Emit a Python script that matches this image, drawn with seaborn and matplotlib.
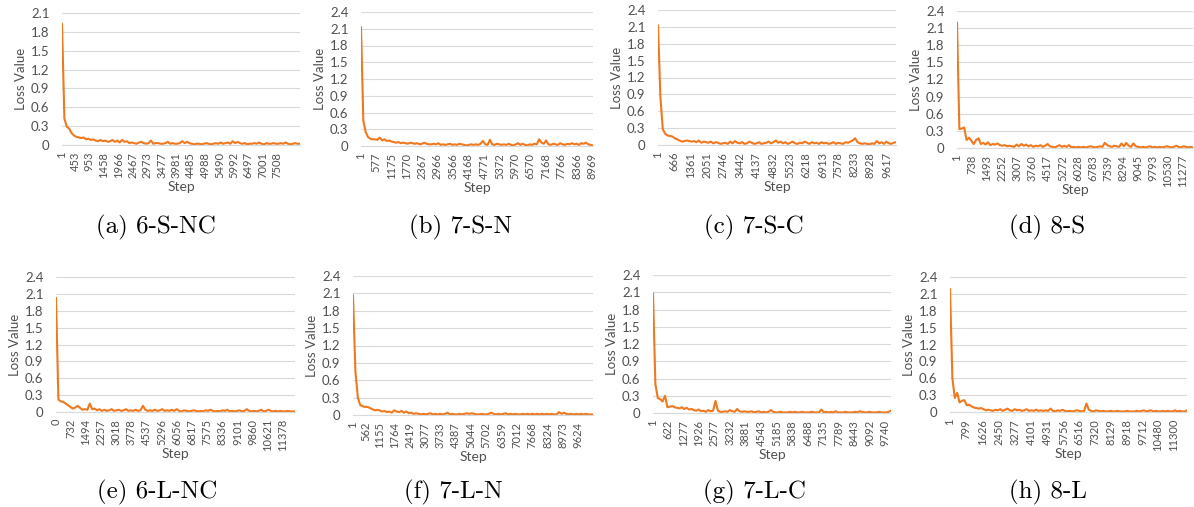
import numpy   as np
import pandas  as pd
import seaborn as sns

from matplotlib import pyplot as plt

sns.set_style("white")
plt.rcParams['font.family'] = ['Lato', 'DejaVu Sans']

W, H = 1194, 507

captions   = ['(a) 6-S-NC', '(b) 7-S-N', '(c) 7-S-C', '(d) 8-S',
              '(e) 6-L-NC', '(f) 7-L-N', '(g) 7-L-C', '(h) 8-L']
first_step = [1, 1, 1, 1, 0, 1, 1, 1]
last_step  = [8300, 9000, 10000, 11780, 11980, 10265, 9990, 11955]
y_max      = [2.1, 2.4, 2.4, 2.4, 2.4, 2.4, 2.4, 2.4]

ticks_a = [1, 453, 953, 1458, 1966, 2467, 2973, 3477, 3981, 4485, 4988, 5490, 5992, 6497, 7001, 7508]
ticks_b = [1, 577, 1175, 1770, 2367, 2966, 3566, 4168, 4771, 5372, 5970, 6570, 7168, 7766, 8366, 8969]
ticks_c = [1, 666, 1361, 2051, 2746, 3442, 4137, 4832, 5523, 6218, 6913, 7578, 8233, 8928, 9617]
ticks_d = [1, 738, 1493, 2252, 3007, 3760, 4517, 5272, 6028, 6783, 7539, 8294, 9045, 9793, 10530, 11277]
ticks_e = [0, 732, 1494, 2257, 3018, 3778, 4537, 5296, 6056, 6817, 7575, 8336, 9101, 9860, 10621, 11378]
ticks_f = [1, 562, 1155, 1764, 2419, 3077, 3733, 4387, 5044, 5702, 6359, 7012, 7668, 8324, 8973, 9624]
ticks_g = [1, 622, 1277, 1926, 2577, 3232, 3881, 4543, 5185, 5838, 6488, 7135, 7789, 8443, 9092, 9740]
ticks_h = [1, 799, 1626, 2450, 3277, 4101, 4931, 5756, 6516, 7320, 8129, 8918, 9712, 10480, 11300]

loss_a = [1.93, 0.42, 0.29, 0.26, 0.19, 0.15, 0.13, 0.12, 0.11, 0.12,
          0.09, 0.10, 0.08, 0.09, 0.07, 0.06, 0.08, 0.06, 0.07, 0.05,
          0.06, 0.08, 0.05, 0.07, 0.04, 0.08, 0.05, 0.06, 0.03, 0.04,
          0.03, 0.02, 0.04, 0.05, 0.03, 0.02, 0.03, 0.07, 0.02, 0.03,
          0.03, 0.02, 0.02, 0.03, 0.05, 0.02, 0.03, 0.02, 0.02, 0.03,
          0.06, 0.03, 0.05, 0.03, 0.02, 0.01, 0.02, 0.02, 0.01, 0.02,
          0.03, 0.02, 0.01, 0.02, 0.03, 0.02, 0.04, 0.02, 0.03, 0.04,
          0.02, 0.06, 0.03, 0.05, 0.03, 0.02, 0.03, 0.01, 0.02, 0.02,
          0.03, 0.02, 0.04, 0.02, 0.01, 0.03, 0.02, 0.02, 0.03, 0.02,
          0.02, 0.03, 0.02, 0.04, 0.02, 0.01, 0.02, 0.03, 0.02, 0.02]
loss_b = [2.13, 0.45, 0.25, 0.16, 0.13, 0.12, 0.12, 0.11, 0.15, 0.10,
          0.12, 0.09, 0.10, 0.08, 0.07, 0.06, 0.07, 0.05, 0.06, 0.05,
          0.04, 0.06, 0.05, 0.04, 0.05, 0.03, 0.04, 0.06, 0.04, 0.03,
          0.03, 0.04, 0.03, 0.05, 0.02, 0.03, 0.02, 0.03, 0.04, 0.02,
          0.03, 0.02, 0.04, 0.03, 0.02, 0.01, 0.02, 0.03, 0.02, 0.03,
          0.02, 0.04, 0.09, 0.03, 0.02, 0.11, 0.03, 0.02, 0.04, 0.03,
          0.02, 0.03, 0.02, 0.04, 0.02, 0.01, 0.03, 0.05, 0.02, 0.04,
          0.02, 0.01, 0.03, 0.02, 0.04, 0.03, 0.12, 0.06, 0.04, 0.10,
          0.03, 0.02, 0.04, 0.03, 0.02, 0.05, 0.03, 0.02, 0.04, 0.03,
          0.05, 0.03, 0.04, 0.02, 0.05, 0.04, 0.06, 0.03, 0.02, 0.01]
loss_c = [2.13, 0.85, 0.28, 0.20, 0.17, 0.16, 0.15, 0.12, 0.10, 0.08,
          0.06, 0.07, 0.08, 0.07, 0.06, 0.07, 0.05, 0.08, 0.04, 0.06,
          0.05, 0.04, 0.06, 0.03, 0.05, 0.04, 0.02, 0.03, 0.04, 0.02,
          0.06, 0.03, 0.07, 0.04, 0.03, 0.05, 0.02, 0.03, 0.06, 0.04,
          0.02, 0.03, 0.05, 0.02, 0.03, 0.04, 0.06, 0.03, 0.05, 0.08,
          0.04, 0.06, 0.03, 0.05, 0.02, 0.04, 0.06, 0.03, 0.02, 0.04,
          0.03, 0.06, 0.04, 0.02, 0.05, 0.03, 0.04, 0.02, 0.05, 0.03,
          0.04, 0.02, 0.03, 0.05, 0.02, 0.04, 0.03, 0.02, 0.05, 0.04,
          0.06, 0.08, 0.12, 0.05, 0.03, 0.02, 0.03, 0.02, 0.01, 0.03,
          0.02, 0.07, 0.03, 0.05, 0.02, 0.06, 0.03, 0.02, 0.04, 0.05]
loss_d = [2.20, 0.33, 0.34, 0.36, 0.14, 0.18, 0.13, 0.07, 0.14, 0.17,
          0.07, 0.09, 0.06, 0.10, 0.05, 0.07, 0.06, 0.08, 0.05, 0.04,
          0.05, 0.03, 0.04, 0.03, 0.02, 0.06, 0.03, 0.07, 0.04, 0.06,
          0.03, 0.05, 0.02, 0.04, 0.03, 0.05, 0.02, 0.04, 0.07, 0.03,
          0.02, 0.01, 0.03, 0.05, 0.02, 0.04, 0.02, 0.05, 0.01, 0.02,
          0.01, 0.02, 0.01, 0.02, 0.01, 0.02, 0.03, 0.02, 0.01, 0.02,
          0.03, 0.02, 0.09, 0.05, 0.03, 0.02, 0.04, 0.03, 0.02, 0.08,
          0.03, 0.09, 0.04, 0.02, 0.08, 0.03, 0.02, 0.01, 0.02, 0.01,
          0.02, 0.03, 0.01, 0.02, 0.01, 0.02, 0.01, 0.02, 0.03, 0.02,
          0.01, 0.02, 0.04, 0.02, 0.01, 0.03, 0.02, 0.01, 0.02, 0.01]
loss_e = [2.03, 0.22, 0.19, 0.18, 0.15, 0.12, 0.09, 0.06, 0.08, 0.11,
          0.07, 0.04, 0.05, 0.04, 0.15, 0.05, 0.06, 0.03, 0.05, 0.02,
          0.04, 0.02, 0.03, 0.05, 0.02, 0.03, 0.04, 0.02, 0.03, 0.05,
          0.02, 0.03, 0.02, 0.04, 0.02, 0.03, 0.11, 0.04, 0.02, 0.03,
          0.02, 0.04, 0.02, 0.03, 0.05, 0.02, 0.03, 0.02, 0.04, 0.02,
          0.05, 0.02, 0.01, 0.03, 0.02, 0.01, 0.02, 0.03, 0.02, 0.01,
          0.02, 0.01, 0.03, 0.02, 0.04, 0.02, 0.01, 0.02, 0.01, 0.03,
          0.02, 0.04, 0.01, 0.02, 0.01, 0.02, 0.03, 0.01, 0.02, 0.05,
          0.02, 0.01, 0.02, 0.01, 0.02, 0.04, 0.01, 0.02, 0.04, 0.02,
          0.01, 0.02, 0.01, 0.02, 0.01, 0.01, 0.02, 0.01, 0.01, 0.01]
loss_f = [2.07, 0.75, 0.30, 0.17, 0.15, 0.14, 0.14, 0.12, 0.10, 0.08,
          0.09, 0.08, 0.06, 0.07, 0.05, 0.06, 0.04, 0.08, 0.06, 0.05,
          0.07, 0.04, 0.06, 0.03, 0.04, 0.02, 0.03, 0.02, 0.01, 0.02,
          0.01, 0.02, 0.03, 0.01, 0.02, 0.01, 0.02, 0.01, 0.02, 0.04,
          0.01, 0.02, 0.01, 0.01, 0.02, 0.01, 0.02, 0.03, 0.02, 0.03,
          0.02, 0.01, 0.01, 0.02, 0.01, 0.01, 0.02, 0.04, 0.02, 0.01,
          0.02, 0.01, 0.02, 0.03, 0.01, 0.02, 0.01, 0.02, 0.01, 0.01,
          0.02, 0.01, 0.02, 0.01, 0.02, 0.01, 0.02, 0.01, 0.02, 0.01,
          0.02, 0.01, 0.02, 0.01, 0.01, 0.05, 0.02, 0.04, 0.02, 0.01,
          0.02, 0.01, 0.02, 0.01, 0.02, 0.01, 0.02, 0.01, 0.01, 0.01]
loss_g = [2.08, 0.50, 0.26, 0.24, 0.20, 0.30, 0.10, 0.11, 0.12, 0.10,
          0.09, 0.08, 0.10, 0.07, 0.09, 0.06, 0.07, 0.05, 0.04, 0.06,
          0.03, 0.04, 0.02, 0.05, 0.03, 0.04, 0.21, 0.04, 0.02, 0.02,
          0.03, 0.02, 0.05, 0.03, 0.02, 0.07, 0.03, 0.02, 0.03, 0.02,
          0.02, 0.03, 0.01, 0.02, 0.03, 0.01, 0.02, 0.01, 0.02, 0.05,
          0.02, 0.01, 0.01, 0.02, 0.01, 0.01, 0.01, 0.02, 0.01, 0.02,
          0.01, 0.01, 0.02, 0.01, 0.01, 0.01, 0.02, 0.01, 0.01, 0.01,
          0.06, 0.01, 0.02, 0.01, 0.02, 0.01, 0.03, 0.01, 0.01, 0.01,
          0.02, 0.01, 0.01, 0.01, 0.02, 0.01, 0.03, 0.02, 0.01, 0.01,
          0.02, 0.01, 0.01, 0.01, 0.02, 0.01, 0.01, 0.01, 0.02, 0.04]
loss_h = [2.19, 0.60, 0.25, 0.34, 0.17, 0.20, 0.21, 0.12, 0.13, 0.10,
          0.08, 0.07, 0.06, 0.07, 0.05, 0.03, 0.04, 0.03, 0.02, 0.04,
          0.03, 0.05, 0.02, 0.04, 0.06, 0.03, 0.02, 0.05, 0.03, 0.04,
          0.02, 0.03, 0.05, 0.02, 0.03, 0.02, 0.04, 0.02, 0.03, 0.02,
          0.03, 0.02, 0.06, 0.02, 0.01, 0.03, 0.02, 0.04, 0.02, 0.01,
          0.02, 0.01, 0.02, 0.03, 0.02, 0.01, 0.02, 0.15, 0.04, 0.02,
          0.01, 0.03, 0.02, 0.01, 0.02, 0.01, 0.01, 0.02, 0.01, 0.01,
          0.02, 0.01, 0.01, 0.01, 0.02, 0.01, 0.01, 0.01, 0.02, 0.01,
          0.02, 0.03, 0.01, 0.02, 0.03, 0.01, 0.02, 0.01, 0.01, 0.02,
          0.01, 0.02, 0.01, 0.01, 0.03, 0.01, 0.02, 0.01, 0.01, 0.03]

all_ticks = [ticks_a, ticks_b, ticks_c, ticks_d, ticks_e, ticks_f, ticks_g, ticks_h]
all_loss  = [loss_a, loss_b, loss_c, loss_d, loss_e, loss_f, loss_g, loss_h]

# plot areas in pixels: left, right, top, bottom
boxes = [(62, 300, 13, 145), (361, 593, 12, 146), (658, 896, 10, 145), (957, 1193, 11, 148),
         (56, 295, 277, 412), (353, 593, 276, 415), (653, 891, 275, 413), (950, 1187, 277, 412)]
cap_x = [156, 461, 754, 1047, 157, 453, 754, 1048]
cap_y = [227, 227, 227, 227, 492, 492, 492, 492]

ORANGE = '#F0781E'
GREY   = '#505050'
GRID   = '#D9D9D9'

fig = plt.figure(figsize=(W / 100, H / 100), dpi=100)

for k in range(8):
    l, r, t, b = boxes[k]
    ax = fig.add_axes([l / W, 1 - b / H, (r - l) / W, (b - t) / H])

    loss = all_loss[k]
    df   = pd.DataFrame({'Step'      : np.linspace(first_step[k], last_step[k], len(loss)),
                         'Loss Value': loss})
    sns.lineplot(data=df, x='Step', y='Loss Value', ax=ax, color=ORANGE, linewidth=1.5)

    ax.set_xlim(first_step[k], last_step[k])
    ax.set_ylim(0, y_max[k])
    yt = np.arange(0, y_max[k] + 0.01, 0.3)
    ax.set_yticks(yt)
    ax.set_yticklabels([f'{v:.1f}' if v > 0 else '0' for v in yt])
    ax.set_xticks(all_ticks[k])
    ax.set_xticklabels([str(v) for v in all_ticks[k]], rotation=90)

    ax.yaxis.grid(True, color=GRID, linewidth=0.8)
    ax.xaxis.grid(False)
    for s in ['top', 'right', 'left']:
        ax.spines[s].set_visible(False)
    ax.spines['bottom'].set_color(GRID)
    ax.spines['bottom'].set_linewidth(0.8)
    ax.set_axisbelow(True)

    ax.tick_params(axis='y', length=0, pad=9, labelsize=9.5, labelcolor=GREY)
    ax.tick_params(axis='x', length=0, pad=5, labelsize=8, labelcolor=GREY)

    w, h = r - l, b - t
    ax.set_xlabel('Step', fontsize=10, color=GREY)
    ax.set_ylabel('Loss Value', fontsize=9.5, color=GREY)
    ax.xaxis.set_label_coords(0.5, -36 / h)
    ax.yaxis.set_label_coords(-35 / w, 0.5)

    fig.text(cap_x[k] / W, 1 - cap_y[k] / H, captions[k], family='cmr10', fontsize=18,
             ha='center', va='center', color='black')

fig.savefig('out.png', dpi=100)
